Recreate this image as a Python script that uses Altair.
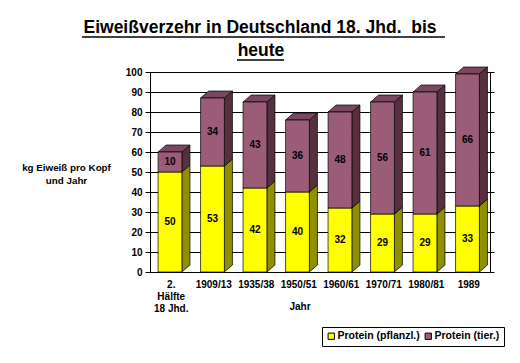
import altair as alt
import pandas as pd

# ---- data ----
categories = ["2. Hälfte 18 Jhd.", "1909/13", "1935/38", "1950/51", "1960/61", "1970/71", "1980/81", "1989"]
label_text = ["2.\nHälfte\n18 Jhd.", "1909/13", "1935/38", "1950/51", "1960/61", "1970/71", "1980/81", "1989"]
plant = [50, 53, 42, 40, 32, 29, 29, 33]
animal = [10, 34, 43, 36, 48, 56, 61, 66]
series = ["Protein (pflanzl.)", "Protein (tier.)"]
title_lines = ["Eiweißverzehr in Deutschland 18. Jhd.\u00a0 bis", "heute"]

# ---- styling / geometry ----
FONT = "Liberation Sans"
YEL, YEL_TOP, YEL_SIDE = "#FFFF00", "#E6E600", "#8F8F00"
MAR, MAR_TOP, MAR_SIDE = "#9B5C78", "#7A4660", "#56303F"
FL, FR, DX, DY = 0.19, 0.75, 0.19, 3.5
N = len(categories)

front, side, top = [], [], []
for i, cat in enumerate(categories):
    segs = [(series[0], 0, plant[i], YEL, YEL_TOP, YEL_SIDE),
            (series[1], plant[i], plant[i] + animal[i], MAR, MAR_TOP, MAR_SIDE)]
    for k, (s, y0, y1, c, ct, cs) in enumerate(segs):
        sid = f"{i}-{k}"
        front.append(dict(id=sid, series=s, x0=i + FL, x1=i + FR, y0=y0, y1=y1,
                          xm=i + (FL + FR) / 2, ym=(y0 + y1) / 2, val=y1 - y0))
        side.append(dict(id=sid, x=i + FR, lo=y0, hi=y1, col=cs))
        side.append(dict(id=sid, x=i + FR + DX, lo=y0 + DY, hi=y1 + DY, col=cs))
        if k == 1:
            top.append(dict(id=sid, y=y1, xl=i + FL, xr=i + FR, col=ct))
            top.append(dict(id=sid, y=y1 + DY, xl=i + FL + DX, xr=i + FR + DX, col=ct))

front_df = pd.DataFrame(front)
side_df = pd.DataFrame(side)
top_df = pd.DataFrame(top)
cat_df = pd.DataFrame({"xc": [i + 0.5 for i in range(N)], "lab": label_text})

xscale = alt.Scale(domain=[0, N], nice=False, zero=False)
yscale = alt.Scale(domain=[0, 100], nice=False)

x_axis = alt.Axis(
    values=list(range(0, N + 1)), labels=False, grid=False,
    tickSize=5, tickColor="black", domainColor="black", title=None,
)

y_axis = alt.Axis(
    values=list(range(0, 101, 10)), grid=True, gridColor="black", gridWidth=1,
    tickSize=5, tickColor="black", domainColor="black",
    labelFont=FONT, labelFontWeight="bold", labelFontSize=10, labelColor="black",
    labelPadding=3,
    title=["kg Eiweiß pro Kopf", "und Jahr"], titleFont=FONT, titleFontWeight="bold",
    titleFontSize=9.8, titleColor="black", titleAngle=0, titleAlign="center",
    titleBaseline="top", titleX=-84, titleY=90, titleLineHeight=13,
)

side_layer = alt.Chart(side_df).mark_area(stroke="black", strokeWidth=0.7).encode(
    x=alt.X("x:Q", scale=xscale, axis=x_axis),
    y=alt.Y("lo:Q", scale=yscale, axis=None),
    y2="hi:Q",
    detail="id:N",
    fill=alt.Fill("col:N", scale=None),
)

top_layer = alt.Chart(top_df).mark_area(orient="horizontal", stroke="black", strokeWidth=0.7).encode(
    y=alt.Y("y:Q", scale=yscale, axis=None),
    x=alt.X("xl:Q", scale=xscale, axis=None),
    x2="xr:Q",
    detail="id:N",
    fill=alt.Fill("col:N", scale=None),
)

front_layer = alt.Chart(front_df).mark_rect(stroke="black", strokeWidth=0.7).encode(
    x=alt.X("x0:Q", scale=xscale, axis=None),
    x2="x1:Q",
    y=alt.Y("y0:Q", scale=yscale, axis=y_axis),
    y2="y1:Q",
    color=alt.Color("series:N", scale=alt.Scale(domain=series, range=[YEL, MAR]),
                    legend=alt.Legend(
                        orient="none", legendX=172, legendY=255, direction="horizontal",
                        title=None, strokeColor="black", fillColor="white", padding=4,
                        symbolType="square", symbolSize=40, symbolStrokeColor="black",
                        symbolStrokeWidth=1, labelFont=FONT, labelFontWeight="bold",
                        labelFontSize=10.5, labelColor="black", columnPadding=3,
                        labelOffset=1, gridAlign="none")),
)

text_layer = alt.Chart(front_df).mark_text(
    font=FONT, fontWeight="bold", fontSize=10, color="black", baseline="middle"
).encode(
    x=alt.X("xm:Q", scale=xscale, axis=None),
    y=alt.Y("ym:Q", scale=yscale, axis=alt.Axis(
        orient="right", values=list(range(0, 101, 10)), labels=False, grid=False,
        tickSize=4, tickColor="black", domainColor="black", title=None)),
    text="val:Q",
)

cat_labels = alt.Chart(cat_df).mark_text(
    font=FONT, fontWeight="bold", fontSize=10, color="black", baseline="top",
    lineBreak="\n", lineHeight=12,
).encode(
    x=alt.X("xc:Q", scale=xscale, axis=None),
    y=alt.value(208),
    text="lab:N",
)

one = pd.DataFrame({"a": [0]})
x_title = alt.Chart(one).mark_text(
    font=FONT, fontWeight="bold", fontSize=10, color="black", baseline="top"
).encode(x=alt.value(150), y=alt.value(230), text=alt.value("Jahr"))

t1 = alt.Chart(one).mark_text(
    font=FONT, fontWeight="bold", fontSize=17.5, color="black", baseline="alphabetic"
).encode(x=alt.value(110), y=alt.value(-39), text=alt.value(title_lines[0]))
t2 = alt.Chart(one).mark_text(
    font=FONT, fontWeight="bold", fontSize=17.5, color="black", baseline="alphabetic"
).encode(x=alt.value(111), y=alt.value(-16), text=alt.value(title_lines[1]))

ul1 = alt.Chart(one).mark_rule(color="black", strokeWidth=1.5).encode(
    x=alt.value(-68), x2=alt.value(295), y=alt.value(-35))
ul2 = alt.Chart(one).mark_rule(color="black", strokeWidth=1.5).encode(
    x=alt.value(87), x2=alt.value(134), y=alt.value(-12))

chart = alt.layer(
    side_layer, top_layer, front_layer, text_layer, cat_labels, x_title, t1, t2, ul1, ul2
).resolve_axis(
    y="independent"
).properties(
    width=340, height=200,
    padding={"left": 142, "top": 64, "right": 22, "bottom": 83},
    autosize=alt.AutoSizeParams(type="none"),
).configure_view(stroke=None).configure(background="white")

chart.save("out.html", embed_options={"renderer": "svg", "actions": False})
